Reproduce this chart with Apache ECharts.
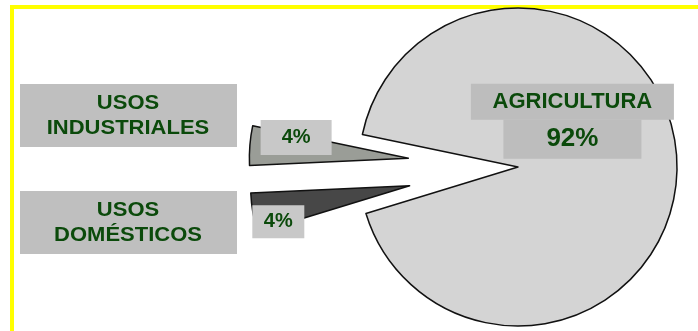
<!DOCTYPE html>
<html lang="es">

<head>
    <meta charset="UTF-8">
    <title>Usos del agua</title>
    <script src="https://cdn.jsdelivr.net/npm/echarts@6/dist/echarts.min.js"></script>
    <style>
        html, body { margin: 0; padding: 0; background: #fff; }
    </style>
</head>

<body>
    <div id="main" style="width: 698px; height: 331px;"></div>
    <script>
    // datos (en %)
    const categories = ['USOS DOMÉSTICOS', 'USOS INDUSTRIALES', 'AGRICULTURA']
    const shares = [4, 4, 92]
    const sliceColors = ['#474747', '#9a9d97', '#d4d4d4']
    const exploded = [true, true, false]

    const textGreen = '#0b4a0b'
    const font = '"Liberation Sans", Arial, sans-serif'

    // caja gris con el nombre a la izquierda de cada porcion separada
    function nameBox(name, top) {
        return {
            type: 'group',
            x: 20,
            y: top,
            children: [{
                type: 'rect',
                shape: { x: 0, y: 0, width: 217, height: 63 },
                style: { fill: '#bfbfbf' }
            }, {
                type: 'text',
                x: 108,
                y: 32,
                scaleX: 1.1,
                style: {
                    text: name.replace(' ', '\n'),
                    fill: textGreen,
                    font: 'bold 20px ' + font,
                    lineHeight: 25,
                    textAlign: 'center',
                    textVerticalAlign: 'middle'
                }
            }]
        }
    }

    const labelMoves = [[-50, 22], [-30, -14], [-28, -42]]
    const pctBoxes = [[52, 33], [71, 35]]

    const myChart = echarts.init(document.getElementById('main'))
    const option = {
        backgroundColor: '#fff',
        animation: false,
        graphic: [
            { type: 'rect', shape: { x: 10, y: 5, width: 700, height: 4 }, style: { fill: '#ffff00' } },
            { type: 'rect', shape: { x: 10, y: 5, width: 4, height: 340 }, style: { fill: '#ffff00' } },
            nameBox(categories[1], 84),
            nameBox(categories[0], 191)
        ],
        series: [{
            type: 'pie',
            center: [518, 167],
            radius: [0, 159],
            startAngle: 197,
            clockwise: true,
            selectedMode: 'multiple',
            selectedOffset: 110,
            avoidLabelOverlap: false,
            emphasis: { scale: false },
            labelLine: { show: false },
            labelLayout: function (params) {
                const m = labelMoves[params.dataIndex]
                return { dx: m[0], dy: m[1] }
            },
            data: categories.map(function (name, i) {
                const item = {
                    name: name,
                    value: shares[i],
                    selected: exploded[i],
                    itemStyle: {
                        color: sliceColors[i],
                        borderColor: '#111',
                        borderWidth: 1.5
                    },
                    select: {
                        itemStyle: { color: sliceColors[i], borderColor: '#111', borderWidth: 1.5 }
                    }
                }
                if (i < 2) {
                    item.label = {
                        show: true,
                        position: 'inside',
                        formatter: '{p|{c}%}',
                        rich: {
                            p: {
                                backgroundColor: '#c8c8c8',
                                width: pctBoxes[i][0],
                                height: pctBoxes[i][1],
                                align: 'center',
                                color: textGreen,
                                fontFamily: font,
                                fontWeight: 'bold',
                                fontSize: 20
                            }
                        }
                    }
                } else {
                    item.label = {
                        show: true,
                        position: 'inside',
                        formatter: '{n|{b}}\n{p|{c}%}',
                        rich: {
                            n: {
                                backgroundColor: '#bdbdbd',
                                width: 203,
                                height: 36,
                                align: 'center',
                                color: textGreen,
                                fontFamily: font,
                                fontWeight: 'bold',
                                fontSize: 22
                            },
                            p: {
                                backgroundColor: '#bdbdbd',
                                width: 138,
                                height: 39,
                                align: 'center',
                                color: textGreen,
                                fontFamily: font,
                                fontWeight: 'bold',
                                fontSize: 26
                            }
                        }
                    }
                }
                return item
            })
        }]
    }
    myChart.setOption(option)
    </script>
</body>

</html>
